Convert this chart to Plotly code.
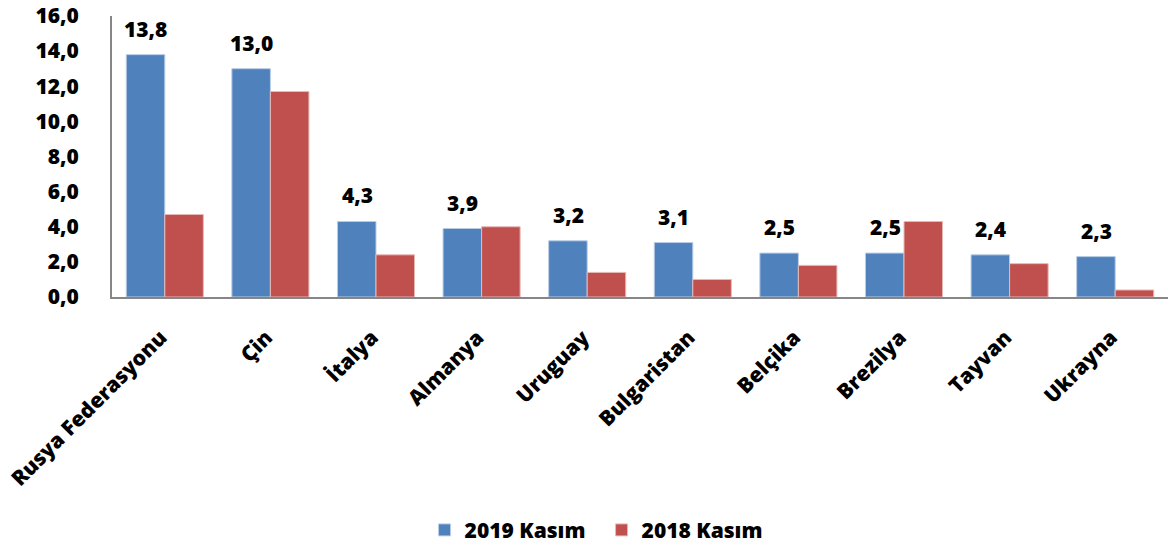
import plotly.graph_objects as go

categories = ["Rusya Federasyonu", "Çin", "İtalya", "Almanya", "Uruguay",
              "Bulgaristan", "Belçika", "Brezilya", "Tayvan", "Ukrayna"]
values_2019 = [13.8, 13.0, 4.3, 3.9, 3.2, 3.1, 2.5, 2.5, 2.4, 2.3]
values_2018 = [4.7, 11.7, 2.4, 4.0, 1.4, 1.0, 1.8, 4.3, 1.9, 0.4]
series_names = ["2019 Kasım", "2018 Kasım"]
tick_vals = [0, 2, 4, 6, 8, 10, 12, 14, 16]
tick_text = ["0,0", "2,0", "4,0", "6,0", "8,0", "10,0", "12,0", "14,0", "16,0"]

FONT = "Open Sans"
BLUE = "#4F81BD"
RED = "#C0504D"
FS = 21
W = 800

fig = go.Figure()
fig.add_trace(go.Bar(x=categories, y=values_2019, name=series_names[0],
                     marker=dict(color=BLUE, line=dict(color="#B9CDE5", width=1))))
fig.add_trace(go.Bar(x=categories, y=values_2018, name=series_names[1],
                     marker=dict(color=RED, line=dict(color="#E6B9B8", width=1))))

for c, v in zip(categories, values_2019):
    fig.add_annotation(x=c, y=v, text=f"{v:.1f}".replace(".", ","),
                       showarrow=False, xshift=-19, yshift=10, yanchor="bottom",
                       font=dict(family=FONT, size=FS, color="black", weight=W))

fig.update_layout(
    width=1168, height=546,
    margin=dict(l=112, r=0, t=16, b=249, autoexpand=False),
    paper_bgcolor="white", plot_bgcolor="white",
    barmode="group", bargap=0.27, bargroupgap=0,
    font=dict(family=FONT, size=FS, color="black", weight=W),
    showlegend=True,
    legend=dict(orientation="h", x=0.296, xanchor="left", y=-0.83, yanchor="middle",
                font=dict(family=FONT, size=FS, color="black", weight=W),
                itemwidth=30, traceorder="normal",
                entrywidth=132, entrywidthmode="pixels"),
)
fig.update_xaxes(showline=True, linecolor="#868686", linewidth=2, ticks="",
                 tickangle=-45, showgrid=False, automargin=False,
                 ticklabelshift=-4, ticklabelstandoff=18,
                 tickfont=dict(family=FONT, size=FS, color="black", weight=W))
fig.update_yaxes(range=[0, 16], tickvals=tick_vals, ticktext=tick_text,
                 showline=True, linecolor="#868686", linewidth=2, ticks="",
                 showgrid=False, zeroline=False, ticklabelstandoff=27, automargin=False,
                 tickfont=dict(family=FONT, size=FS, color="black", weight=W))

fig.write_html("out.html", config={"displayModeBar": False},
               post_script="document.body.style.margin='0px';")
